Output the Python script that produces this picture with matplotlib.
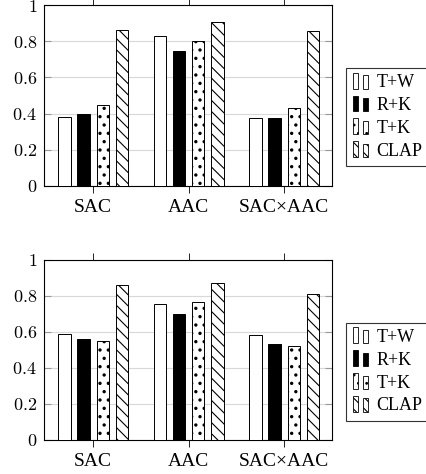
import numpy as np
import matplotlib
matplotlib.use("Agg")
import matplotlib.pyplot as plt
import matplotlib.patches as mpatches
from matplotlib.legend_handler import HandlerBase

plt.rcParams['font.family'] = 'Liberation Serif'
plt.rcParams['mathtext.fontset'] = 'cm'

categories = ["SAC", "AAC", "SAC×AAC"]
methods = ["T+W", "R+K", "T+K", "CLAP"]

# top panel
top_tw = [0.38, 0.827, 0.376]
top_rk = [0.40, 0.748, 0.376]
top_tk = [0.447, 0.803, 0.431]
top_clap = [0.86, 0.906, 0.856]

# bottom panel
bot_tw = [0.588, 0.758, 0.584]
bot_rk = [0.560, 0.699, 0.532]
bot_tk = [0.549, 0.767, 0.525]
bot_clap = [0.860, 0.872, 0.813]

styles = [
    dict(facecolor="white", hatch=None),
    dict(facecolor="black", hatch=None),
    dict(facecolor="white", hatch=".."),
    dict(facecolor="white", hatch="\\\\\\"),
]
hatch_lw = [0.8, 0.8, 1.2, 0.8]


class TwoBoxHandler(HandlerBase):
    # pgfplots-like ybar legend image: two small bars
    def create_artists(self, legend, orig_handle, xdescent, ydescent,
                       width, height, fontsize, trans):
        arts = []
        for x0, h in [(0.0, 1.25), (0.66, 1.05)]:
            with plt.rc_context({'hatch.linewidth': 0.8}):
                r = mpatches.Rectangle((x0 * width - xdescent, -ydescent - 0.1 * height),
                                       width * 0.34, height * h,
                                       facecolor=orig_handle.get_facecolor(),
                                       edgecolor="black", linewidth=0.6,
                                       hatch=orig_handle.get_hatch(),
                                       transform=trans)
            arts.append(r)
        return arts


def draw(ax, series):
    x = np.arange(len(categories))
    offs = [-0.3, -0.1, 0.1, 0.3]
    handles = []
    for vals, off, st, name, hl in zip(series, offs, styles, methods, hatch_lw):
        with plt.rc_context({'hatch.linewidth': hl}):
            b = ax.bar(x + off, vals, width=0.13, edgecolor="black", linewidth=0.7,
                       label=name, zorder=3, **st)
        handles.append(b[0])
    ax.set_xlim(-0.515, 2.5)
    ax.set_ylim(0, 1)
    ax.set_xticks(x)
    ax.set_xticklabels(categories, fontsize=14)
    ax.set_yticks([0, 0.2, 0.4, 0.6, 0.8, 1])
    ax.set_yticklabels(["$0$", "$0.2$", "$0.4$", "$0.6$", "$0.8$", "$1$"], fontsize=13)
    ax.tick_params(axis="x", direction="out", length=5, top=True, width=0.6, pad=4)
    ax.tick_params(axis="y", direction="in", length=5, right=True, color="#999999", pad=5)
    ax.grid(axis="y", color="#d8d8d8", linewidth=0.8, zorder=0)
    ax.set_axisbelow(True)
    for s in ax.spines.values():
        s.set_linewidth(0.8)
    leg = ax.legend(handles, methods, loc="upper left", bbox_to_anchor=(1.05, 0.652),
                    handler_map={mpatches.Rectangle: TwoBoxHandler()},
                    fontsize=13, frameon=True, fancybox=False, edgecolor="black",
                    handlelength=0.85, handleheight=0.7, handletextpad=0.45,
                    labelspacing=0.32, borderpad=0.35, borderaxespad=0)
    leg.get_frame().set_linewidth(0.8)


fig = plt.figure(figsize=(4.27, 4.74), dpi=100)
ax1 = fig.add_axes([44 / 427, 1 - 186 / 474, 288 / 427, 181 / 474])
ax2 = fig.add_axes([44 / 427, 1 - 440 / 474, 288 / 427, 180 / 474])

draw(ax1, [top_tw, top_rk, top_tk, top_clap])
draw(ax2, [bot_tw, bot_rk, bot_tk, bot_clap])

fig.savefig("out.png", dpi=100)
